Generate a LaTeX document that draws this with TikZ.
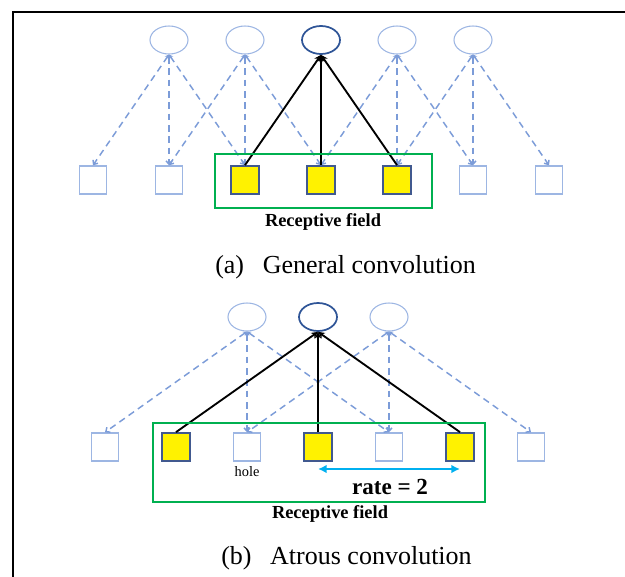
\documentclass[tikz,border=0pt]{standalone}
\usepackage{fontspec}
\setmainfont{Liberation Serif}
\usetikzlibrary{arrows.meta,shapes.geometric}
\definecolor{lblue}{HTML}{9DB6E3}
\definecolor{dline}{HTML}{7C9CD8}
\definecolor{dblue}{HTML}{2F5597}
\definecolor{ybord}{HTML}{41598F}
\definecolor{gbox}{HTML}{00B050}
\definecolor{cyanarr}{HTML}{00B0F0}
\tikzset{
  lcirc/.style={ellipse,draw=lblue,line width=0.8pt,minimum width=28.5pt,minimum height=21pt,inner sep=0pt},
  dcirc/.style={ellipse,draw=dblue,line width=1.3pt,minimum width=28.5pt,minimum height=21pt,inner sep=0pt},
  lsq/.style={rectangle,draw=lblue,line width=1.1pt,fill=white,minimum width=20.5pt,minimum height=21pt,inner sep=0pt},
  ysq/.style={rectangle,draw=ybord,line width=1.3pt,fill=yellow,minimum width=20.5pt,minimum height=21pt,inner sep=0pt},
  dln/.style={draw=dline,line width=1.1pt,dash pattern=on 5pt off 3.5pt,{Stealth[length=3pt,width=3.5pt]}-{Straight Barb[length=2.5pt,width=4.5pt]}},
  bln/.style={draw=black,line width=1.4pt,-{Stealth[length=5pt,width=5pt]}},
  rfbox/.style={draw=gbox,line width=1.6pt},
  rflab/.style={font=\fontsize{13.8}{14}\selectfont\bfseries,inner sep=0pt},
  caplab/.style={font=\fontsize{19.5}{20}\selectfont,inner sep=0pt}
}
\begin{document}
\begin{tikzpicture}[x=0.75pt,y=-0.75pt]
\useasboundingbox (0,0) rectangle (625,576);
% frame
\draw[line width=1.8pt] (625,12) -- (13,12) -- (13,577);

% ---------- (a) ----------
\foreach \i/\x in {1/93,2/169,6/473,7/549}
  \node[lsq] (a-s\i) at (\x,180) {};
\foreach \i/\x in {3/245,4/321,5/397}
  \node[ysq] (a-s\i) at (\x,180) {};
\foreach \i/\x in {2/169,3/245,5/397,6/473}
  \node[lcirc] (a-c\i) at (\x,40) {};
\node[dcirc] (a-c4) at (321,40) {};

\foreach \c/\s in {2/1,2/2,2/3,3/2,3/3,3/4,5/4,5/5,5/6,6/5,6/6,6/7}
  \draw[dln] (a-c\c.south) -- (a-s\s.north);
\foreach \s in {3,4,5}
  \draw[bln] (a-s\s.north) -- (a-c4.south);

\node[rfbox,minimum width=163pt,minimum height=40.5pt,inner sep=0pt] (a-rf) at (323.5,181) {};
\node[rflab] (a-rfl) at (323,222) {Receptive field};
\node[caplab,anchor=west] (a-cap) at (215,267) {(a)\hspace{14pt}General convolution};

% ---------- (b) ----------
\foreach \i/\x in {1/105,3/247,5/389,7/531}
  \node[lsq] (b-s\i) at (\x,447) {};
\foreach \i/\x in {2/176,4/318,6/460}
  \node[ysq] (b-s\i) at (\x,447) {};
\node[lcirc] (b-c3) at (247,317) {};
\node[dcirc] (b-c4) at (318,317) {};
\node[lcirc] (b-c5) at (389,317) {};

\foreach \c/\s in {3/1,3/3,3/5,5/3,5/5,5/7}
  \draw[dln] (b-c\c.south) -- (b-s\s.north);
\foreach \s in {2,4,6}
  \draw[bln] (b-s\s.north) -- (b-c4.south);

\node[rfbox,minimum width=249pt,minimum height=59pt,inner sep=0pt] (b-rf) at (319,462.5) {};
\node[font=\fontsize{10.8}{11}\selectfont,inner sep=0pt] (b-hole) at (247,472) {hole};
\coordinate (b-r1) at (318,469);
\coordinate (b-r2) at (460,469);
\draw[draw=cyanarr,line width=2pt,{Latex[length=6.5pt,width=6.5pt]}-{Latex[length=6.5pt,width=6.5pt]}] (b-r1) -- (b-r2);
\node[font=\fontsize{17.3}{18}\selectfont\bfseries,inner sep=0pt] (b-rate) at (390,487) {rate = 2};
\node[rflab] (b-rfl) at (330,514) {Receptive field};
\node[caplab,anchor=west] (b-cap) at (221,558) {(b)\hspace{14pt}Atrous convolution};
\end{tikzpicture}
\end{document}
